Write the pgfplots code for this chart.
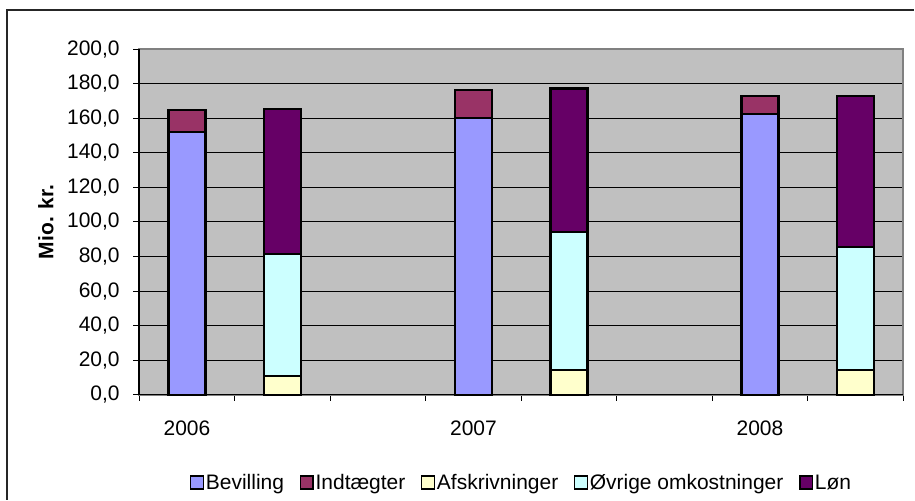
\documentclass[border=0pt]{standalone}
\usepackage{fontspec}
\setmainfont{Liberation Sans}
\usepackage{pgfplots}
\pgfplotsset{compat=1.18}
\definecolor{bev}{HTML}{9999FF}
\definecolor{ind}{HTML}{993366}
\definecolor{afs}{HTML}{FFFFCC}
\definecolor{ovr}{HTML}{CCFFFF}
\definecolor{lon}{HTML}{660066}
\definecolor{bg}{HTML}{C0C0C0}
\begin{document}
\begin{tikzpicture}
\begin{axis}[
  width=764.7pt, height=345.7pt, scale only axis,
  clip=false,
  xmin=0, xmax=8, ymin=0, ymax=200,
  ybar stacked, bar width=37pt,
  axis background/.style={fill=bg},
  axis line style={draw=gray, line width=2pt},
  ymajorgrids, grid style={black, line width=1pt},
  ytick distance=20,
  xtick={0,1,2,3,4,5,6,7,8}, xticklabels={},
  extra x ticks={0.5,3.5,6.5},
  extra x tick labels={2006,2007,2008},
  extra x tick style={major tick length=0pt, grid=none},
  xtick pos=bottom, ytick pos=left,
  tick align=outside, major tick length=6pt,
  tick style={black, line width=1pt},
  /pgf/number format/.cd, fixed, fixed zerofill, precision=1, use comma, 1000 sep={}, assume math mode=true,
  /pgfplots/.cd,
  tick label style={font=\fontsize{21}{25}\selectfont},
  yticklabel style={xshift=-10pt},
  xticklabel style={yshift=-23pt},
  ylabel={Mio. kr.},
  ylabel style={font=\fontsize{21}{25}\selectfont\bfseries, at={(axis description cs:-0.122,0.5)}, anchor=center},
  legend columns=5,
  legend style={at={(0.5,-0.255)}, anchor=center, draw=none, fill=none,
    font=\fontsize{21}{25}\selectfont,
    nodes={inner sep=1.5pt},
    /tikz/every even column/.append style={column sep=14pt},
    /tikz/every odd column/.append style={column sep=0pt}},
  legend image code/.code={\draw[#1, line width=1.6pt] (0pt,-6.5pt) rectangle (13pt,6.5pt);},
]
\addplot[fill=bev, draw=black, line width=2.2pt] coordinates {(0.5,152.0) (1.5,0) (3.5,160.0) (4.5,0) (6.5,162.3) (7.5,0)};
\addplot[fill=ind, draw=black, line width=2.2pt] coordinates {(0.5,12.7) (1.5,0) (3.5,16.3) (4.5,0) (6.5,10.5) (7.5,0)};
\addplot[fill=afs, draw=black, line width=2.2pt] coordinates {(0.5,0) (1.5,11.0) (3.5,0) (4.5,14.1) (6.5,0) (7.5,14.1)};
\addplot[fill=ovr, draw=black, line width=2.2pt] coordinates {(0.5,0) (1.5,70.5) (3.5,0) (4.5,80.2) (6.5,0) (7.5,71.5)};
\addplot[fill=lon, draw=black, line width=2.2pt] coordinates {(0.5,0) (1.5,84.0) (3.5,0) (4.5,83.0) (6.5,0) (7.5,87.2)};
\legend{Bevilling, Indtægter, Afskrivninger, Øvrige omkostninger, Løn}
\draw[black, line width=1.5pt] (rel axis cs:0,0) -- (rel axis cs:0,1);
\draw[black, line width=1.5pt] (rel axis cs:0,0) -- (rel axis cs:1,0);
\path (rel axis cs:0,0) ++(-139.3pt,-105pt) rectangle ++(915pt,500pt);
\draw[line width=1.5pt, black!85] (rel axis cs:0,0) ++(-132.3pt,-105pt) -- ++(0pt,490pt) -- ++(908pt,0pt);
\end{axis}
\end{tikzpicture}
\end{document}
